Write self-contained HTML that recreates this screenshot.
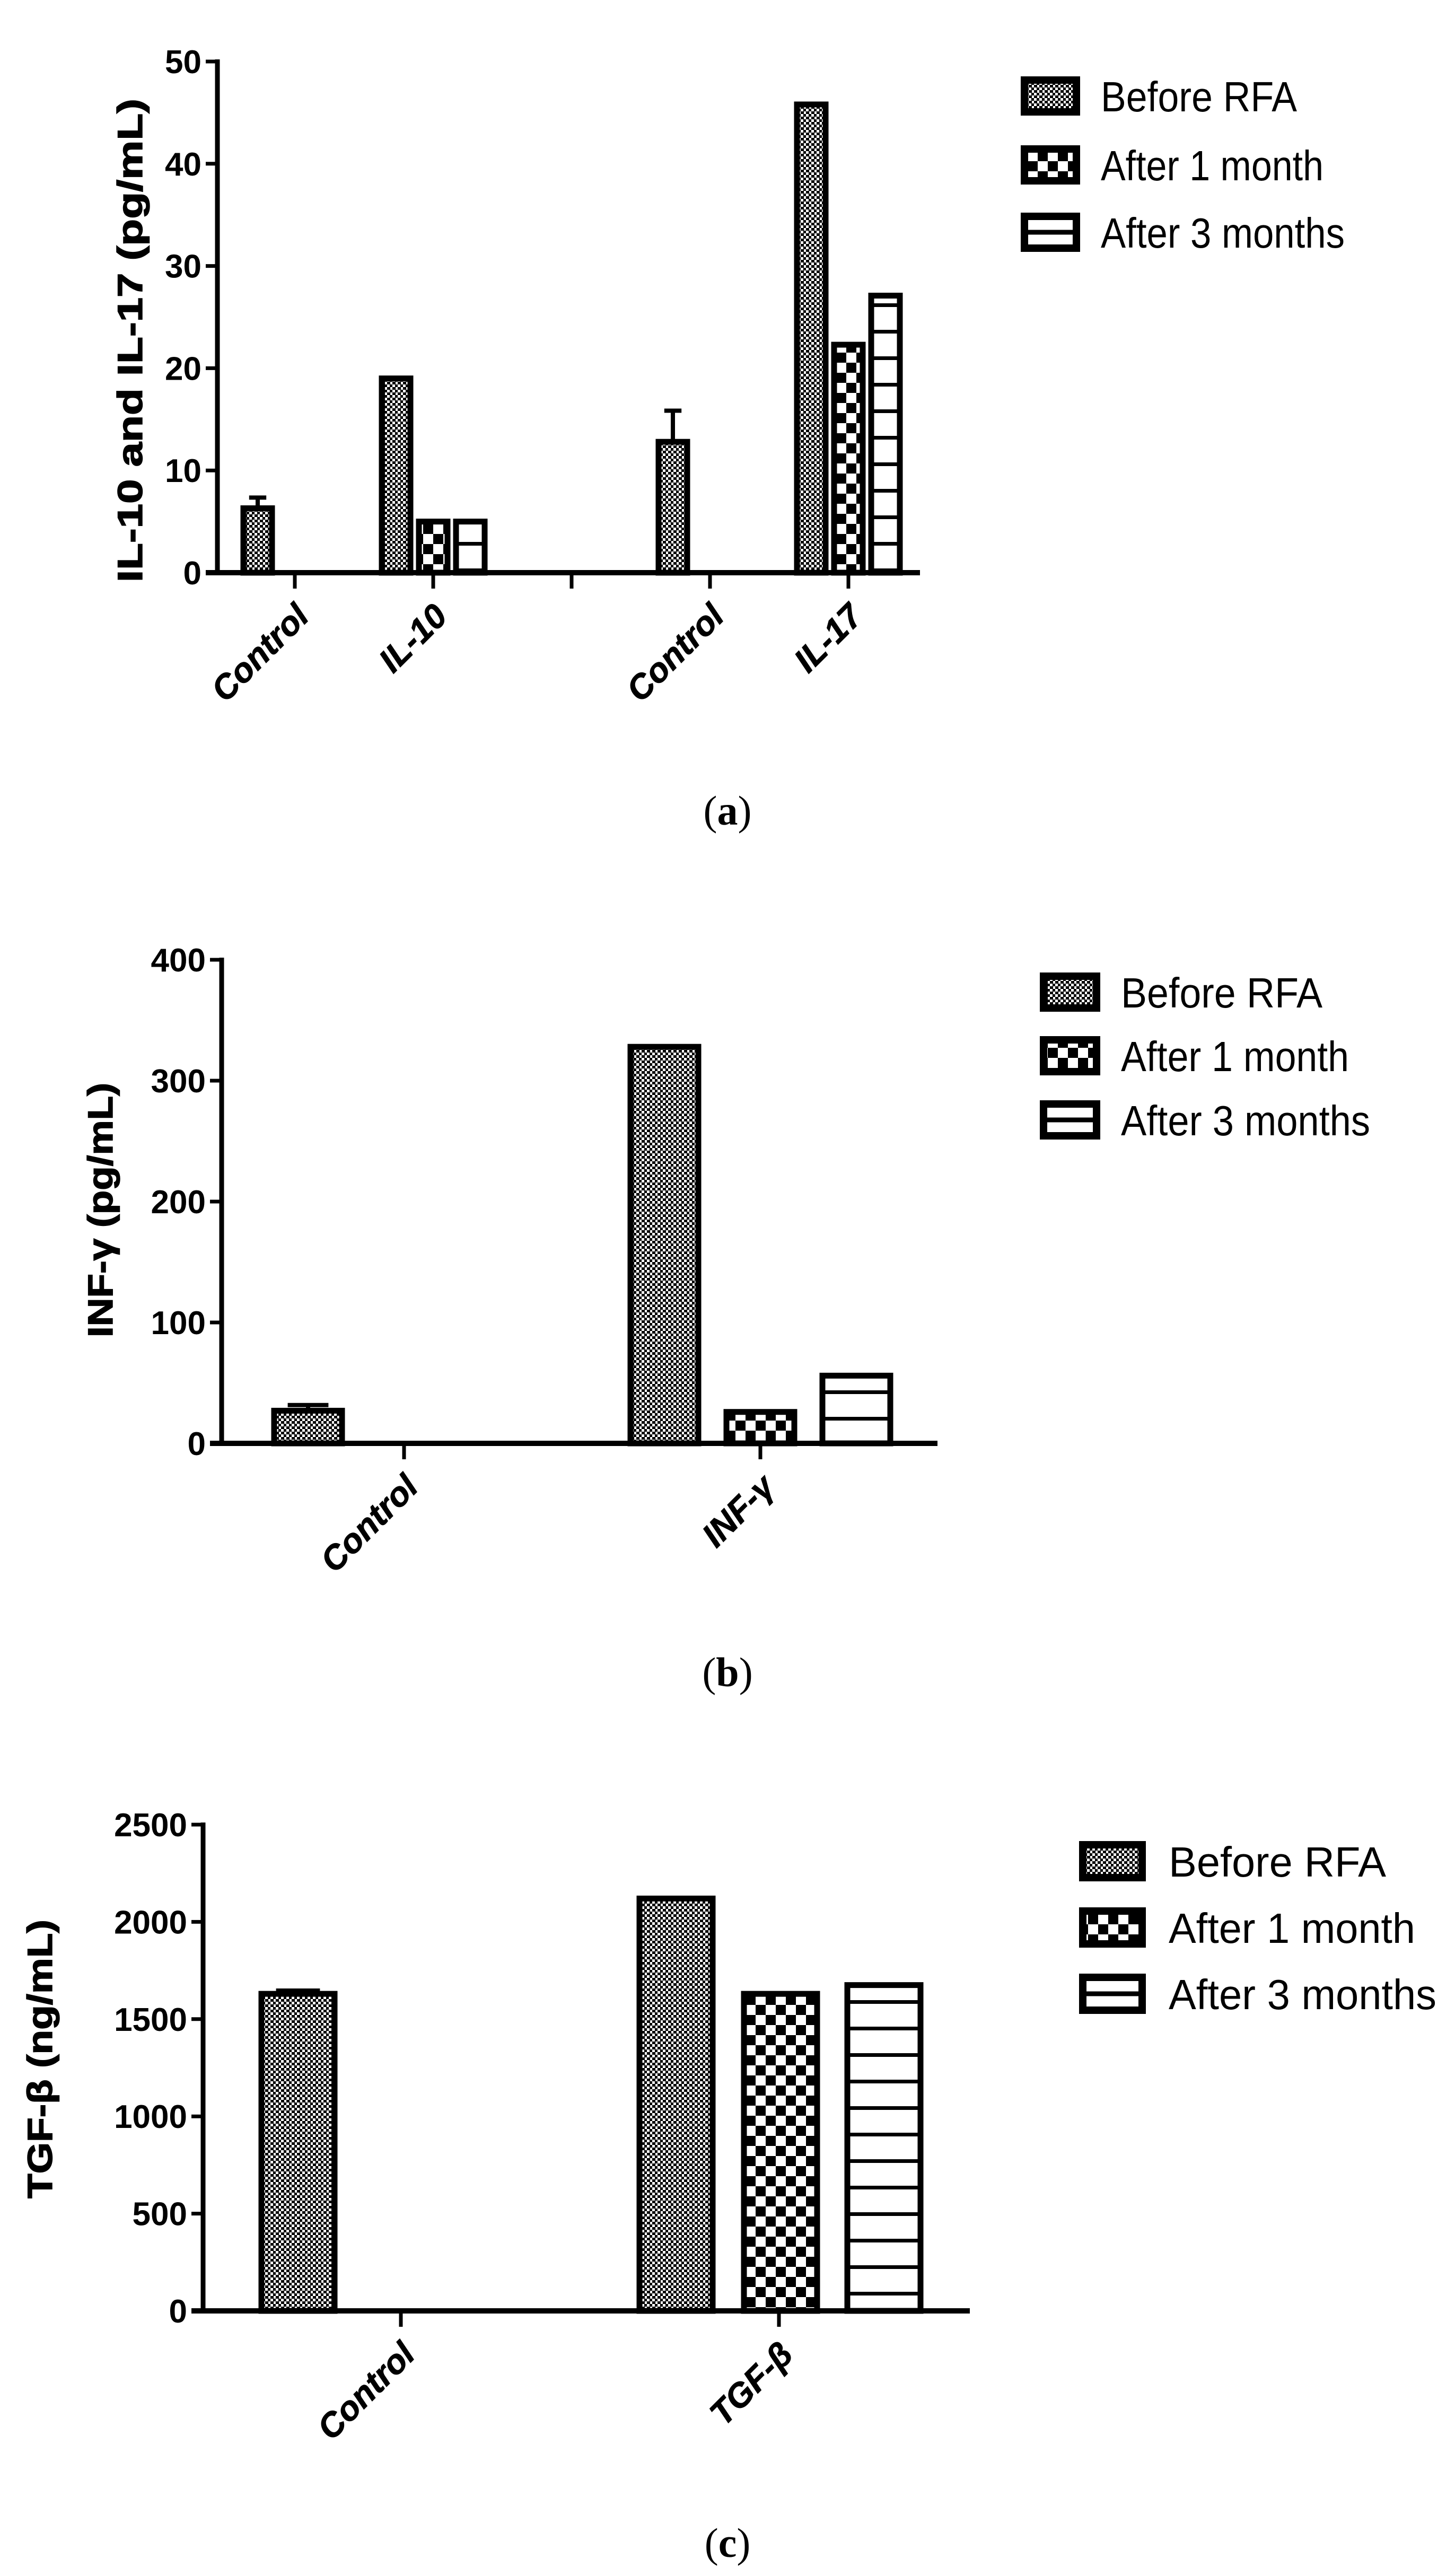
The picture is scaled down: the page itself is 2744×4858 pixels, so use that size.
<!DOCTYPE html>
<html><head><meta charset="utf-8"><title>Cytokine bar charts</title>
<style>
html,body{margin:0;padding:0;background:#fff;}
svg{display:block;}
.tick{font-family:"Liberation Sans Narrow","Liberation Sans",sans-serif;font-weight:bold;font-size:62px;}
.leg{font-family:"Liberation Sans Narrow","Liberation Sans",sans-serif;font-size:80px;}
.ylab{font-family:"Liberation Sans",sans-serif;font-weight:bold;font-size:66px;stroke:#000;stroke-width:1.5px;}
.xlab{font-family:"Liberation Sans",sans-serif;font-weight:bold;font-style:italic;font-size:64px;stroke:#000;stroke-width:1px;}
.cap{font-family:"Liberation Serif",serif;font-size:78px;}
</style></head>
<body>
<svg id="fig" xmlns="http://www.w3.org/2000/svg" width="2744" height="4858" viewBox="0 0 2744 4858">
<defs>
<pattern id="pFine" width="10" height="10" patternUnits="userSpaceOnUse">
<rect width="10" height="10" fill="#fff"/><rect width="6" height="5" fill="#000"/><rect x="5" y="5" width="5" height="5" fill="#000"/>
</pattern>
<pattern id="pCheck" width="38" height="38" patternUnits="userSpaceOnUse">
<rect width="38" height="38" fill="#fff"/><rect width="19" height="19" fill="#000"/><rect x="19" y="19" width="19" height="19" fill="#000"/>
</pattern>
<pattern id="pLines" width="40" height="50" patternUnits="userSpaceOnUse">
<rect width="40" height="50" fill="#fff"/><rect y="22" width="40" height="7" fill="#000"/>
</pattern>
</defs>
<g id="root"></g>
</svg>
<script>
// ---- Chart (a) data ----
const aCategories = ["Control", "IL-10", "", "Control", "IL-17"];
const aBefore = [6.3, 19, null, 12.8, 45.8];
const aAfter1 = [null, 5, null, null, 22.3];
const aAfter3 = [null, 5, null, null, 27.1];
const aErrTop = [7.5, null, null, 16, null];
const aTicks = [0, 10, 20, 30, 40, 50];
// ---- Chart (b) data ----
const bCategories = ["Control", "INF-\u03B3"];
const bBefore = [27, 328];
const bAfter1 = [null, 26];
const bAfter3 = [null, 56];
const bErrTop = [33, null];
const bTicks = [0, 100, 200, 300, 400];
// ---- Chart (c) data ----
const cCategories = ["Control", "TGF-\u03B2"];
const cBefore = [1630, 2120];
const cAfter1 = [null, 1630];
const cAfter3 = [null, 1675];
const cErrTop = [1655, null];
const cTicks = [0, 500, 1000, 1500, 2000, 2500];
const seriesNames = ["Before RFA", "After 1 month", "After 3 months"];

const NS = "http://www.w3.org/2000/svg";
const root = document.getElementById("root");
function mk(tag, attrs, parent) {
  const e = document.createElementNS(NS, tag);
  for (const k in attrs) e.setAttribute(k, attrs[k]);
  (parent || root).appendChild(e);
  return e;
}

function drawChart(L, cats, series, errTop, ticks, ylabel, capLetter, key) {
  const g = mk("g", {});
  
  
  const max = ticks[ticks.length - 1];
  const y = v => L.y0 - v / max * (L.y0 - L.yTop);
  const fills = ["url(#pFine)", "url(#pCheck)", "url(#pLines)"];
  cats.forEach((c, i) => {
    const cx = L.x0 + L.first + i * L.slot;
    series.forEach((arr, s) => {
      const v = arr[i];
      if (v === null || v === undefined) return;
      const bx = cx + L.off[s] - L.bw / 2;
      const r = mk("rect", {x: bx, y: y(v), width: L.bw, height: L.y0 - y(v), fill: fills[s], stroke: "#000", "stroke-width": L.sw}, g);
      
      
    });
    if (errTop[i] !== null) {
      const ex = cx + L.off[0];
      const e1 = mk("line", {x1: ex, x2: ex, y1: y(series[0][i]), y2: y(errTop[i]), stroke: "#000", "stroke-width": 8}, g);
      
      
      const e2 = mk("line", {x1: ex - L.bw * 0.3, x2: ex + L.bw * 0.3, y1: y(errTop[i]) + 3, y2: y(errTop[i]) + 3, stroke: "#000", "stroke-width": 8}, g);
      
      
    }
  });
  const ya = mk("line", {x1: L.x0, x2: L.x0, y1: L.yTop - 4, y2: L.y0 + 4, stroke: "#000", "stroke-width": 9}, g);
  
  
  const xa = mk("line", {x1: L.x0 - 22, x2: L.xEnd, y1: L.y0, y2: L.y0, stroke: "#000", "stroke-width": 10}, g);
  
  
  ticks.forEach(t => {
    mk("line", {x1: L.x0 - 22, x2: L.x0, y1: y(t), y2: y(t), stroke: "#000", "stroke-width": 7}, g);
    const tx = mk("text", {x: L.x0 - 30, y: y(t) + 22, "text-anchor": "end", class: "tick"}, g);
    tx.textContent = t;
    
    
  });
  cats.forEach((c, i) => {
    const cx = L.x0 + L.first + i * L.slot;
    mk("line", {x1: cx, x2: cx, y1: L.y0, y2: L.y0 + 30, stroke: "#000", "stroke-width": 7}, g);
    if (!c) return;
    const tx = mk("text", {x: 0, y: 0, "text-anchor": "end", class: "xlab",
      transform: "translate(" + (cx + 30) + "," + (L.y0 + 86) + ") rotate(-45)"}, g);
    tx.textContent = c;
    
    
  });
  const yl = mk("text", {x: 0, y: 0, "text-anchor": "middle", class: "ylab",
    transform: "translate(" + L.ylx + "," + L.yly + ") rotate(-90)", textLength: L.yll, lengthAdjust: "spacingAndGlyphs"}, g);
  yl.textContent = ylabel;
  
  
  seriesNames.forEach((n, s) => {
    const cy = L.legY[s];
    const lb = mk("rect", {x: L.legX, y: cy - L.legH / 2, width: L.legW, height: L.legH, fill: fills[s], stroke: "#000", "stroke-width": 14}, g);
    if (s === 2) { lb.setAttribute("fill", "#fff"); mk("line", {x1: L.legX, x2: L.legX + L.legW, y1: cy, y2: cy, stroke: "#000", "stroke-width": 9}, g); }
    
    
    const lt = mk("text", {x: L.legTX, y: cy + 29, class: "leg", textLength: L.legTL[s], lengthAdjust: "spacingAndGlyphs"}, g);
    lt.textContent = n;
    
    
  });
  const cp = mk("text", {x: 1372, y: L.capY, "text-anchor": "middle", class: "cap"}, g);
  cp.appendChild(document.createTextNode("("));
  const b = mk("tspan", {"font-weight": "bold"}, cp);
  b.textContent = capLetter;
  cp.appendChild(document.createTextNode(")"));
  
  
}

drawChart({x0: 410, y0: 1080, yTop: 116, xEnd: 1735, first: 146, slot: 261, off: [-70, 0, 70], bw: 54, sw: 11,
  ylx: 268, yly: 642, yll: 912, legX: 1932, legW: 98, legH: 60, legY: [181, 311, 438], legTX: 2076, legTL: [370, 420, 460], capY: 1555},
  aCategories, [aBefore, aAfter1, aAfter3], aErrTop, aTicks, "IL-10 and IL-17 (pg/mL)", "a", "a");

drawChart({x0: 418, y0: 2722, yTop: 1810, xEnd: 1768, first: 344, slot: 672, off: [-181, 0, 181], bw: 128, sw: 11,
  ylx: 212, yly: 2282, yll: 480, legX: 1968, legW: 100, legH: 60, legY: [1871, 1991, 2112], legTX: 2114, legTL: [380, 430, 470], capY: 3180},
  bCategories, [bBefore, bAfter1, bAfter3], bErrTop, bTicks, "INF-\u03B3 (pg/mL)", "b", "b");

drawChart({x0: 383, y0: 4358, yTop: 3441, xEnd: 1829, first: 373, slot: 713, off: [-194, 3, 198], bw: 138, sw: 11,
  ylx: 98, yly: 3883, yll: 526, legX: 2042, legW: 112, legH: 62, legY: [3510, 3635, 3760], legTX: 2204, legTL: [410, 465, 505], capY: 4822},
  cCategories, [cBefore, cAfter1, cAfter3], cErrTop, cTicks, "TGF-\u03B2 (ng/mL)", "c", "c");
</script>
</body></html>
